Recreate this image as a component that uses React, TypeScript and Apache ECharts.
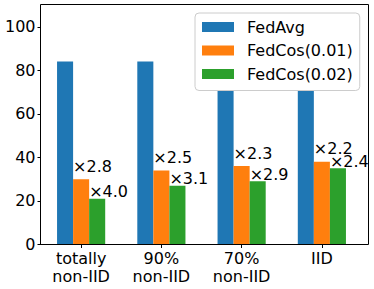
import React, { useEffect, useRef } from "react";
import * as echarts from "echarts";

const categories = ["totally\nnon-IID", "90%\nnon-IID", "70%\nnon-IID", "IID"];
const seriesNames = ["FedAvg", "FedCos(0.01)", "FedCos(0.02)"];
const fedAvg = [84, 84, 84, 84];
const fedCos001 = [30, 34, 36, 38];
const fedCos002 = [21, 27, 29, 35];
const speedup001 = ["×2.8", "×2.5", "×2.3", "×2.2"];
const speedup002 = ["×4.0", "×3.1", "×2.9", "×2.4"];
const yTicks = [0, 20, 40, 60, 80, 100];

const FONT = "DejaVu Sans";
const FS = 16;

export default function App() {
  const ref = useRef<HTMLDivElement>(null);
  useEffect(() => {
    document.body.style.margin = "0";
    if (!ref.current) return;
    const chart = echarts.init(ref.current, undefined, { renderer: "svg" });
    const labelBase = {
      show: true,
      fontFamily: FONT,
      fontSize: FS,
      lineHeight: FS,
      color: "#000",
      align: "left" as const,
      verticalAlign: "bottom" as const,
    };
    chart.setOption({
      animation: false,
      textStyle: { fontFamily: FONT },
      grid: { left: 41, right: 12, top: 5, bottom: 44.5 },
      legend: {
        orient: "vertical",
        left: 195,
        top: 13,
        z: 20,
        data: seriesNames,
        icon: "rect",
        itemWidth: 32,
        itemHeight: 10,
        itemGap: 4.5,
        padding: [4.5, 7, 7, 7],
        backgroundColor: "#ffffff",
        borderColor: "#cccccc",
        borderWidth: 1,
        borderRadius: 4,
        textStyle: {
          fontFamily: FONT,
          fontSize: FS,
          lineHeight: 19,
          color: "#000",
          padding: [0, 0, 0, 8],
        },
      },
      xAxis: {
        type: "category",
        data: categories,
        axisLine: { show: false },
        axisTick: { show: true, alignWithLabel: true, length: 3.5, lineStyle: { color: "#000", width: 1 } },
        axisLabel: { fontFamily: FONT, fontSize: FS, lineHeight: 18.5, color: "#000", margin: 4.5 },
        splitLine: { show: false },
      },
      yAxis: {
        type: "value",
        min: 0,
        max: 110,
        interval: 20,
        axisLine: { show: false },
        axisTick: { show: true, length: 3.5, lineStyle: { color: "#000", width: 1 }, customValues: yTicks },
        axisLabel: { fontFamily: FONT, fontSize: FS, color: "#000", margin: 5.5, customValues: yTicks },
        splitLine: { show: false },
      },
      graphic: [
        {
          type: "rect",
          shape: { x: 40.5, y: 4.5, width: 328, height: 240 },
          style: { fill: "none", stroke: "#000", lineWidth: 1 },
          z: 100,
          silent: true,
        },
      ],
      series: [
        {
          name: seriesNames[0],
          type: "bar",
          data: fedAvg,
          itemStyle: { color: "#1f77b4" },
          barGap: "0%",
          barCategoryGap: "40%",
        },
        {
          name: seriesNames[1],
          type: "bar",
          data: fedCos001,
          itemStyle: { color: "#ff7f0e" },
          label: {
            ...labelBase,
            position: [0, -5],
            formatter: (p: any) => speedup001[p.dataIndex],
          },
        },
        {
          name: seriesNames[2],
          type: "bar",
          data: fedCos002,
          itemStyle: { color: "#2ca02c" },
          label: {
            ...labelBase,
            position: [0, 1],
            formatter: (p: any) => speedup002[p.dataIndex],
          },
        },
      ],
    });
    return () => chart.dispose();
  }, []);
  return <div ref={ref} style={{ width: 374, height: 289 }} />;
}
